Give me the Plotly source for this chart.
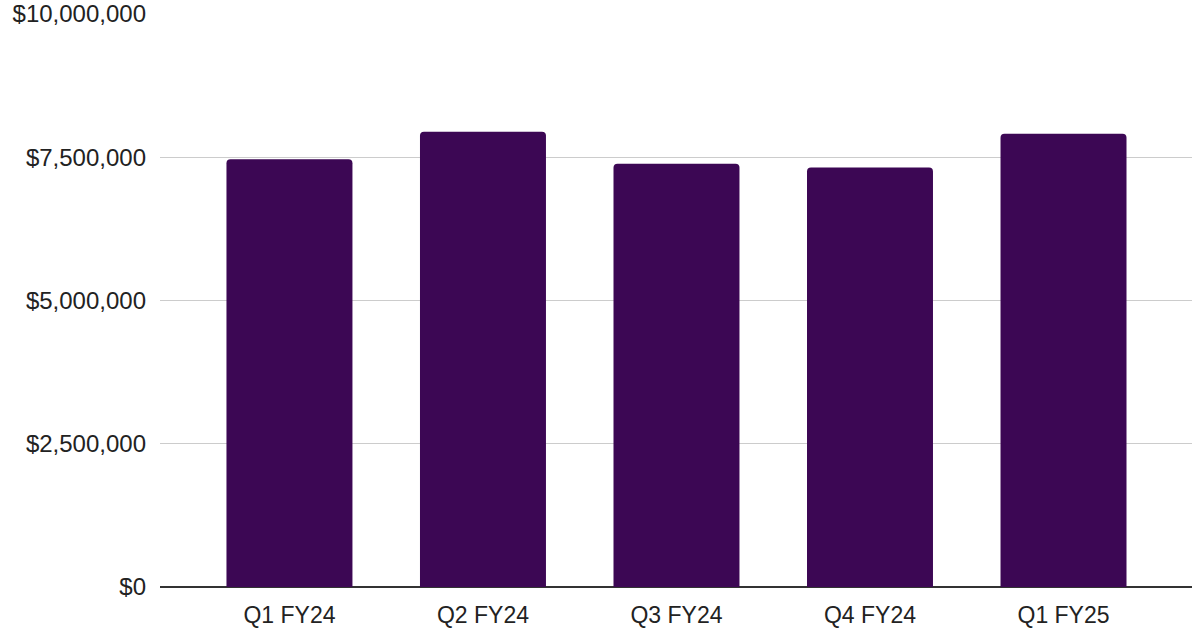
import plotly.graph_objects as go

categories = ["Q1 FY24", "Q2 FY24", "Q3 FY24", "Q4 FY24", "Q1 FY25"]
values = [7463000, 7944000, 7385000, 7320000, 7909000]
y_ticks = [0, 2500000, 5000000, 7500000, 10000000]
y_tick_labels = ["$0", "$2,500,000", "$5,000,000", "$7,500,000", "$10,000,000"]

fig = go.Figure(
    go.Bar(
        x=list(range(len(categories))),
        y=values,
        marker=dict(color="#3c0754", line=dict(width=0), cornerradius=4),
        width=0.651,
        hoverinfo="skip",
    )
)

fig.update_layout(
    width=1192,
    height=629,
    margin=dict(l=160, r=0, t=14, b=42),
    paper_bgcolor="white",
    plot_bgcolor="white",
    font=dict(family="Liberation Sans, Arial, sans-serif", size=24, color="#222222"),
    showlegend=False,
)
fig.update_xaxes(
    range=[-0.669, 4.664],
    tickvals=list(range(len(categories))),
    ticktext=categories,
    showgrid=False,
    showline=False,
    zeroline=False,
    ticks="",
    ticklabelstandoff=12,
    tickfont=dict(size=23),
)
fig.update_yaxes(
    range=[0, 10000000],
    tickvals=y_ticks,
    ticktext=y_tick_labels,
    showgrid=True,
    gridcolor="#cccccc",
    gridwidth=1,
    zeroline=True,
    zerolinecolor="#333333",
    zerolinewidth=1.5,
    showline=False,
    ticks="",
    ticklabelstandoff=13,
    tickfont=dict(size=24),
)

fig.write_html("out.html")
